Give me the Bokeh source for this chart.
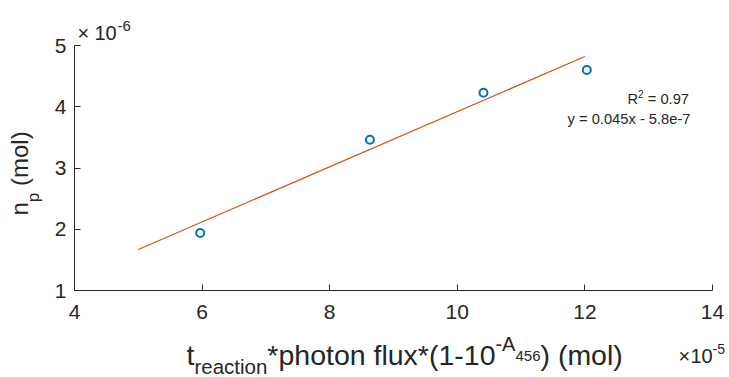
import math

from bokeh.plotting import figure
from bokeh.models import Label, FixedTicker, LinearAxis, Range1d
from bokeh.embed import file_html
from bokeh.resources import INLINE

# ---- data (mol) ----
absorbed_photons = [5.97e-5, 8.63e-5, 10.41e-5, 12.03e-5]   # t_reaction * photon flux * (1 - 10^-A456)
product_mol = [1.94e-6, 3.46e-6, 4.23e-6, 4.60e-6]          # n_p
fit_slope = 0.045
fit_intercept = -5.8e-7
fit_r2 = 0.97
fit_x_span = [5e-5, 12e-5]

x_ticks = [4, 6, 8, 10, 12, 14]
y_ticks = [1, 2, 3, 4, 5]
X_EXP = -5
Y_EXP = -6

# ---- geometry / style ----
W, H = 729, 377
AX_LEFT, AX_RIGHT, AX_TOP, AX_BOTTOM = 74, 712, 45, 290   # pixel box of the axes
X0, X1 = 4, 14
Y0, Y1 = 1, 5
AX = "#262626"
FONT = "Liberation Sans"
DESCENT = 0.3   # label anchor sits below the alphabetic baseline by about this * size

sx = (AX_RIGHT - AX_LEFT) / (X1 - X0)    # px per x unit
sy = (AX_BOTTOM - AX_TOP) / (Y1 - Y0)    # px per y unit

xs = [v / 10 ** X_EXP for v in absorbed_photons]
ys = [v / 10 ** Y_EXP for v in product_mol]
fit_x = [v / 10 ** X_EXP for v in fit_x_span]
fit_y = [(fit_slope * v + fit_intercept) / 10 ** Y_EXP for v in fit_x_span]

# the frame spans the whole canvas; axes are pinned at x=4 / y=1
p = figure(width=W, height=H,
           x_range=Range1d(X0 - AX_LEFT / sx, X1 + (W - AX_RIGHT) / sx),
           y_range=Range1d(Y0 - (H - AX_BOTTOM) / sy, Y1 + AX_TOP / sy),
           x_axis_type=None, y_axis_type=None,
           min_border=0, output_backend="svg", toolbar_location=None)
p.outline_line_color = None
p.background_fill_color = "white"
p.border_fill_color = "white"
p.grid.visible = False

xaxis = LinearAxis(ticker=FixedTicker(ticks=x_ticks), fixed_location=Y0, bounds=(X0, X1))
yaxis = LinearAxis(ticker=FixedTicker(ticks=y_ticks), fixed_location=X0, bounds=(Y0, Y1))
for ax in (xaxis, yaxis):
    ax.axis_line_color = AX
    ax.axis_line_width = 1
    ax.major_tick_line_color = AX
    ax.major_tick_in = 6
    ax.major_tick_out = 0
    ax.minor_tick_line_color = None
    ax.major_label_text_font = FONT
    ax.major_label_text_font_size = "21px"
    ax.major_label_text_color = AX
xaxis.major_label_standoff = 14
yaxis.major_label_standoff = 8
p.add_layout(xaxis, "below")
p.add_layout(yaxis, "left")

# fit line and measured points
p.line(fit_x, fit_y, line_color="#D95319", line_width=1.2)
p.scatter(xs, ys, marker="circle", size=8, fill_color=None,
          line_color="#0072BD", line_width=2)


def px_to_x(px):
    return X0 + (px - AX_LEFT) / sx


def py_to_y(py):
    return Y0 + (AX_BOTTOM - py) / sy


ADV = {" ": 278, "*": 389, "(": 333, ")": 333, "-": 333, ".": 278, "=": 584,
       "×": 584, "A": 667, "R": 722, "a": 556, "c": 500, "e": 556, "f": 278,
       "h": 556, "i": 222, "l": 222, "m": 833, "n": 556, "o": 556, "p": 556,
       "r": 333, "t": 278, "u": 556, "x": 500, "y": 500}


def text_width(s, size):
    return sum(ADV.get(c, 556) for c in s) * size / 1000.0


def put(txt, px, py, size, angle=0.0, align="left", color=AX):
    """Place text with its alphabetic baseline at pixel (px, py)."""
    if angle:
        px -= DESCENT * size
    else:
        py -= DESCENT * size
    p.add_layout(Label(x=px_to_x(px), y=py_to_y(py), text=txt,
                       text_font=FONT, text_font_size=f"{size}px",
                       text_color=color, text_align=align,
                       text_baseline="alphabetic", angle=angle))


def run(pieces, x0, base):
    """Horizontal text run; pieces are (text, size, baseline shift, gap before)."""
    cx = x0
    for txt, size, dy, gap in pieces:
        cx += gap
        put(txt, cx, base + dy, size)
        cx += text_width(txt, size)


# x axis label: t_reaction*photon flux*(1-10^{-A_456}) (mol)
run([("t", 28.5, 0, 0), ("reaction", 20.5, 9, 0),
     ("*photon flux*(1-10", 28.5, 0, 0), ("-A", 20, -14, 0),
     ("456", 15, -3, 0), (") (mol)", 28.5, 0, 0)], 186, 363)

# y axis label: n_p (mol), rotated
cy = 215
for txt, size, dx, gap in [("n", 24, 0, 0), ("p", 17, 12, 0), ("(mol)", 24, 0, 0.278 * 24)]:
    cy -= gap
    put(txt, 26 + dx, cy, size, angle=math.pi / 2)
    cy -= text_width(txt, size)

# axis exponent labels
put("×", 77, 38, 20)
put("10", 94, 38, 20)
put(f"{Y_EXP}", 117, 30, 15)
put("×", 678, 361, 20)
put("10", 690, 361, 20)
put(f"{X_EXP}", 712, 353, 14)

# fit annotation
run([("R", 14.7, 0, 0), ("2", 10, -7, 0), (f"= {fit_r2:.2f}", 14.7, 0, 0.278 * 14.7)], 627, 103)
put(f"y = {fit_slope:g}x - {abs(fit_intercept):.1e}".replace("e-07", "e-7"),
    690, 123, 14.7, align="right", color=AX)

open("out.html", "w").write(file_html(p, INLINE))
